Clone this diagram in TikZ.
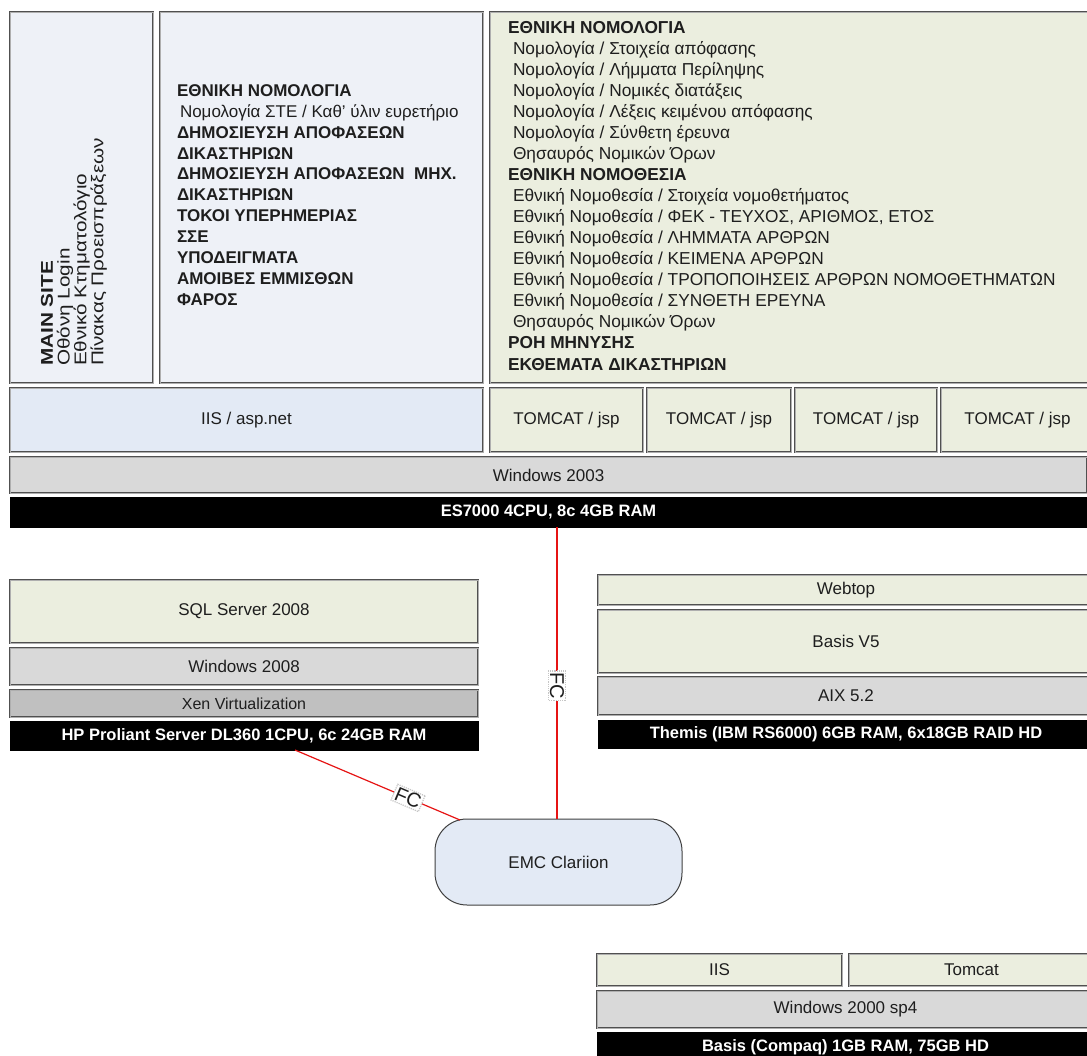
\documentclass[tikz,border=0pt]{standalone}
\usepackage{fontspec}
\usepackage{graphicx}
\setmainfont{Liberation Sans}
\definecolor{bluea}{RGB}{238,241,247}
\definecolor{blueb}{RGB}{227,234,245}
\definecolor{greenb}{RGB}{235,238,223}
\definecolor{greyb}{RGB}{217,217,217}
\definecolor{greyc}{RGB}{192,192,192}
\definecolor{edge}{RGB}{80,80,80}
\definecolor{edgein}{RGB}{175,175,175}
\definecolor{ink}{RGB}{30,30,30}
\definecolor{fcred}{RGB}{230,20,20}
\newcommand\rbox[7]{%
  \pgfmathsetmacro\rbw{#4-#2}\pgfmathsetmacro\rbh{#5-#3}%
  \pgfmathsetmacro\rbx{(#2+#4)/2}\pgfmathsetmacro\rby{(#3+#5)/2}%
  \node[#6, minimum width=\rbw pt, minimum height=\rbh pt] (#1) at (\rbx,\rby) {#7};}
\newcommand\wide[1]{\scalebox{1.22}[1]{#1}}
\tikzset{
  layer/.style={draw=edge, double=edgein, double distance=0.9pt, line width=0.9pt,
    inner sep=0pt, outer sep=0pt, text=ink, font=\fontsize{17}{20}\selectfont},
  hw/.style={draw=black, fill=black, inner sep=0pt, outer sep=0pt, text=white,
    font=\fontsize{16.5}{20}\selectfont\bfseries},
  txt/.style={inner sep=0pt, outer sep=0pt, text=ink, align=left},
  fcline/.style={draw=fcred, line width=1.2pt},
  fclab/.style={fill=white, draw=gray!45, densely dotted, inner sep=1.5pt, text=ink,
    font=\fontsize{20}{22}\selectfont, sloped},
}
\begin{document}
\begin{tikzpicture}[x=1pt, y=-1pt]
\useasboundingbox (0,0) rectangle (1087,1056);
\fill[white] (0,0) rectangle (1087,1056);

% ---- top application boxes
\rbox{mainbox}{10}{12}{153}{383}{layer, fill=bluea}{}
\rbox{midbox}{160}{12}{483}{383}{layer, fill=bluea}{}
\rbox{rightbox}{490}{12}{1094}{383}{layer, fill=greenb}{}

\node[txt, rotate=90, anchor=north west, font=\fontsize{17}{16.8}\selectfont] (maintext) at (41,366)
  {\wide{\textbf{MAIN SITE}}\\\wide{Οθόνη Login}\\\wide{Εθνικό Κτηματολόγιο}\\\wide{Πίνακας Προεισπράξεων}};

\node[txt, anchor=north west, font=\fontsize{17}{20.9}\selectfont] (midtext) at (177,84.5)
  {\textbf{ΕΘΝΙΚΗ ΝΟΜΟΛΟΓΙΑ}\\
   \hspace*{3pt}Νομολογία ΣΤΕ / Καθ' ύλιν ευρετήριο\\
   \textbf{ΔΗΜΟΣΙΕΥΣΗ ΑΠΟΦΑΣΕΩΝ}\\
   \textbf{ΔΙΚΑΣΤΗΡΙΩΝ}\\
   \textbf{ΔΗΜΟΣΙΕΥΣΗ ΑΠΟΦΑΣΕΩΝ \ ΜΗΧ.}\\
   \textbf{ΔΙΚΑΣΤΗΡΙΩΝ}\\
   \textbf{ΤΟΚΟΙ ΥΠΕΡΗΜΕΡΙΑΣ}\\
   \textbf{ΣΣΕ}\\
   \textbf{ΥΠΟΔΕΙΓΜΑΤΑ}\\
   \textbf{ΑΜΟΙΒΕΣ ΕΜΜΙΣΘΩΝ}\\
   \textbf{ΦΑΡΟΣ}};

\node[txt, anchor=north west, font=\fontsize{17.3}{21}\selectfont] (righttext) at (508,21)
  {\textbf{ΕΘΝΙΚΗ ΝΟΜΟΛΟΓΙΑ}\\
   \hspace*{5pt}Νομολογία / Στοιχεία απόφασης\\
   \hspace*{5pt}Νομολογία / Λήμματα Περίληψης\\
   \hspace*{5pt}Νομολογία / Νομικές διατάξεις\\
   \hspace*{5pt}Νομολογία / Λέξεις κειμένου απόφασης\\
   \hspace*{5pt}Νομολογία / Σύνθετη έρευνα\\
   \hspace*{5pt}Θησαυρός Νομικών Όρων\\
   \textbf{ΕΘΝΙΚΗ ΝΟΜΟΘΕΣΙΑ}\\
   \hspace*{5pt}Εθνική Νομοθεσία / Στοιχεία νομοθετήματος\\
   \hspace*{5pt}Εθνική Νομοθεσία / ΦΕΚ - ΤΕΥΧΟΣ, ΑΡΙΘΜΟΣ, ΕΤΟΣ\\
   \hspace*{5pt}Εθνική Νομοθεσία / ΛΗΜΜΑΤΑ ΑΡΘΡΩΝ\\
   \hspace*{5pt}Εθνική Νομοθεσία / ΚΕΙΜΕΝΑ ΑΡΘΡΩΝ\\
   \hspace*{5pt}Εθνική Νομοθεσία / ΤΡΟΠΟΠΟΙΗΣΕΙΣ ΑΡΘΡΩΝ ΝΟΜΟΘΕΤΗΜΑΤΩΝ\\
   \hspace*{5pt}Εθνική Νομοθεσία / ΣΥΝΘΕΤΗ ΕΡΕΥΝΑ\\
   \hspace*{5pt}Θησαυρός Νομικών Όρων\\
   \textbf{ΡΟΗ ΜΗΝΥΣΗΣ}\\[1pt]
   \textbf{ΕΚΘΕΜΑΤΑ ΔΙΚΑΣΤΗΡΙΩΝ}};

% ---- ES7000 stack
\rbox{iis}{10}{388}{483}{452}{layer, fill=blueb}{IIS / asp.net}
\rbox{tomA}{490}{388}{643}{452}{layer, fill=greenb}{TOMCAT / jsp}
\rbox{tomB}{647}{388}{791}{452}{layer, fill=greenb}{TOMCAT / jsp}
\rbox{tomC}{795}{388}{937}{452}{layer, fill=greenb}{TOMCAT / jsp}
\rbox{tomD}{941}{388}{1094}{452}{layer, fill=greenb}{TOMCAT / jsp}
\rbox{win2003}{10}{457}{1087}{493}{layer, fill=greyb}{Windows 2003}
\rbox{es}{10}{497}{1087}{527}{hw}{ES7000 4CPU, 8c 4GB RAM}

% ---- HP stack
\rbox{sql}{10}{580}{478}{643}{layer, fill=greenb}{SQL Server 2008}
\rbox{win2008}{10}{648}{478}{685}{layer, fill=greyb}{Windows 2008}
\rbox{xen}{10}{690}{478}{717}{layer, fill=greyc, font=\fontsize{16}{18}\selectfont}{Xen Virtualization}
\rbox{hp}{10}{721}{478}{750}{hw}{HP Proliant Server DL360 1CPU, 6c 24GB RAM}

% ---- Themis stack
\rbox{webtop}{598}{575}{1094}{605}{layer, fill=greenb}{Webtop}
\rbox{basisv}{598}{610}{1094}{673}{layer, fill=greenb}{Basis V5}
\rbox{aix}{598}{677}{1094}{715}{layer, fill=greyb}{AIX 5.2}
\rbox{themis}{598}{720}{1094}{748}{hw}{Themis (IBM RS6000) 6GB RAM, 6x18GB RAID HD}

% ---- storage
\rbox{emc}{435}{819}{682}{905}{draw=black!75, line width=1pt, fill=blueb, rounded corners=32pt,
  inner sep=0pt, text=ink, font=\fontsize{17}{20}\selectfont}{EMC Clariion}

% ---- Basis (Compaq) stack
\rbox{biis}{597}{954}{842}{986}{layer, fill=greenb}{IIS}
\rbox{btom}{849}{954}{1094}{986}{layer, fill=greenb}{Tomcat}
\rbox{w2000}{597}{991}{1094}{1028}{layer, fill=greyb}{Windows 2000 sp4}
\rbox{basisc}{597}{1032}{1094}{1062}{hw}{Basis (Compaq) 1GB RAM, 75GB HD}

% ---- FC connectors
\coordinate (esout) at (557,527);
\coordinate (hpout) at (295,750);
\coordinate (emcin) at (460,820);
\draw[fcline] (esout) -- (emc.north -| esout) node[fclab, pos=0.545] (fcv) {FC};
\draw[fcline] (hpout) -- (emcin) node[fclab, pos=0.685] (fcd) {FC};
\end{tikzpicture}
\end{document}
